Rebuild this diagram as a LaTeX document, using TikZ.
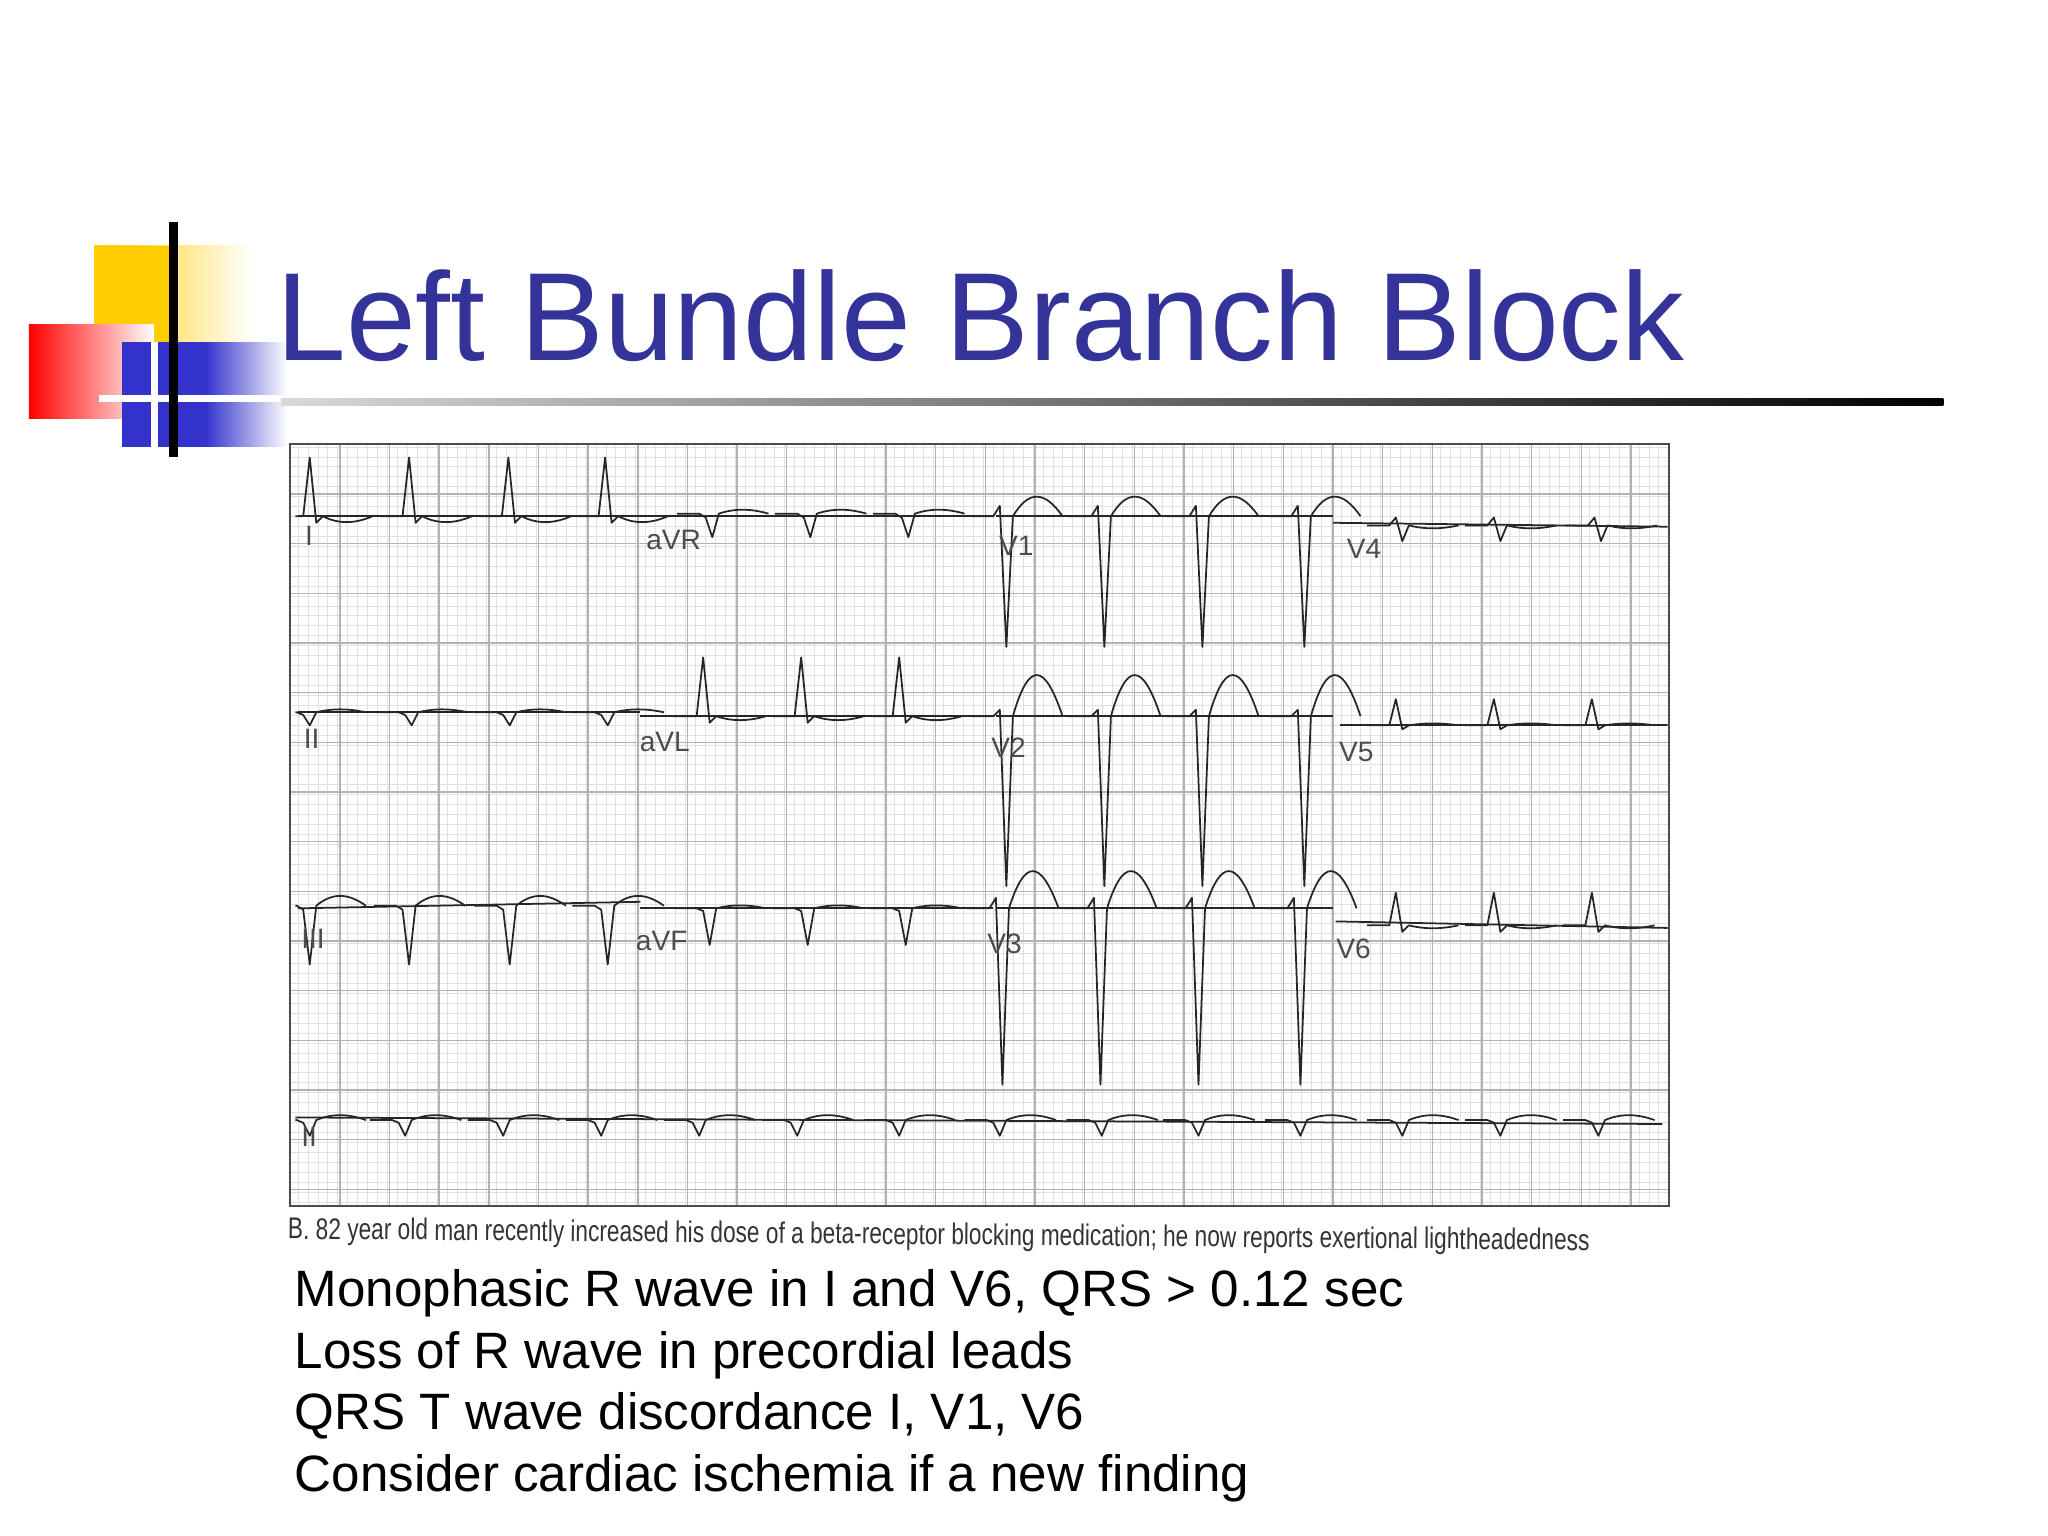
\documentclass[tikz,border=0pt]{standalone}
\usepackage{fontspec}
\setmainfont{Liberation Sans}
\begin{document}
\begin{tikzpicture}[x=0.01307cm,y=-0.01307cm,
  ecg/.style={line width=0.5pt,black!85,line join=round},
  leadlbl/.style={font=\fontsize{8}{9}\selectfont,text=black!70,anchor=west,inner sep=0},
  bullet/.style={font=\fontsize{14.55}{16}\selectfont,anchor=base west,inner sep=0}]
\useasboundingbox (0,0) rectangle (1567,1175);
\definecolor{ttl}{RGB}{51,51,153}
\definecolor{sqblue}{RGB}{51,51,204}
\definecolor{sqyel}{RGB}{255,204,0}
% decorative squares
\shade[left color=sqyel,right color=white] (72,188) rectangle (193,310);
\fill[sqyel] (72,188) rectangle (132,310);
\shade[shading angle=45,left color=red,right color=white] (22,248) rectangle (118,320);
\fill[sqblue] (93,262) rectangle (157,342);
\shade[left color=sqblue,right color=white] (157,262) rectangle (220,342);
\draw[white,line width=2pt] (76,305) -- (220,305);
\draw[white,line width=2pt] (118,262) -- (118,342);
\draw[black,line width=2.5pt] (133,170) -- (133,350);
% title
\node[anchor=base west,inner sep=0,text=ttl,font=\fontsize{35.7}{40}\selectfont] (title) at (211,276) {Left Bundle Branch Block};
\shade[left color=black!15,right color=black] (215,305) rectangle (1487,310);
% ECG paper
\node[minimum width=1054*0.01307cm,minimum height=582*0.01307cm,anchor=north west,inner sep=0] (paper) at (222,340) {};
\draw[black!12,line width=0.2pt,step=7.6*0.01307cm] (222,340) grid (1276,922);
\draw[black!30,line width=0.4pt] \foreach \gx in {0,...,27} {(222+\gx*38,340) -- (222+\gx*38,922)};
\draw[black!30,line width=0.4pt] \foreach \gy in {0,...,15} {(222,340+\gy*38) -- (1276,340+\gy*38)};
\newcommand\beat[6]{% x, base, r, s, t
  \draw[ecg] ({#1-22},#2) -- ({#1-5},#2) -- (#1,{#2-#3}) -- ({#1+5},{#2+#4}) -- ({#1+10},#2)
   .. controls ({#1+22},{#2-#5}) and ({#1+34},{#2-#5}) .. ({#1+48},#2);}
\begin{scope}
\clip (226,340) rectangle (1276,922);
% row 1
\draw[ecg] (228,395) -- (490,395); \draw[ecg] (490,395) -- (760,395);
\draw[ecg] (762,395) -- (1020,395); \draw[ecg] (1020,400) -- (1276,403);
\foreach \p in {237,313,389,463} {\beat{\p}{395}{45}{5}{-6}{}}
\foreach \p in {540,615,690} {\beat{\p}{393}{-3}{18}{4}{}}
\foreach \p in {765,840,915,993} {\beat{\p}{395}{8}{100}{20}{}}
\foreach \p in {1068,1143,1220} {\beat{\p}{402}{6}{12}{-3}{}}
% row 2
\draw[ecg] (228,545) -- (490,545); \draw[ecg] (490,548) -- (760,548);
\draw[ecg] (762,548) -- (1020,548); \draw[ecg] (1025,555) -- (1276,555);
\foreach \p in {232,310,385,460} {\beat{\p}{545}{-2}{10}{3}{}}
\foreach \p in {538,613,688} {\beat{\p}{548}{45}{5}{-4}{}}
\foreach \p in {765,840,915,993} {\beat{\p}{548}{5}{130}{42}{}}
\foreach \p in {1068,1143,1218} {\beat{\p}{555}{20}{3}{2}{}}
% row 3
\draw[ecg] (228,695) -- (490,690); \draw[ecg] (490,695) -- (760,695);
\draw[ecg] (762,695) -- (1020,695); \draw[ecg] (1022,705) -- (1276,710);
\foreach \p in {232,308,385,460} {\beat{\p}{693}{-3}{45}{10}{}}
\foreach \p in {538,613,688} {\beat{\p}{695}{-2}{28}{3}{}}
\foreach \p in {762,837,912,990} {\beat{\p}{695}{8}{135}{38}{}}
\foreach \p in {1068,1143,1218} {\beat{\p}{708}{25}{5}{-3}{}}
% row 4 rhythm
\draw[ecg] (225,855) -- (1272,860);
\foreach \p in {232,305,380,455,530,605,683,760,838,912,990,1068,1143,1218} {\beat{\p}{857}{-2}{12}{5}{}}
\end{scope}
\draw[black!70,line width=0.6pt] (paper.north west) rectangle (paper.south east);
% lead labels
\node[leadlbl] (l1) at (233,410) {I};
\node[leadlbl] (l2) at (494,413) {aVR};
\node[leadlbl] (l3) at (764,418) {V1};
\node[leadlbl] (l4) at (1030,420) {V4};
\node[leadlbl] (l5) at (232,565) {II};
\node[leadlbl] (l6) at (489,568) {aVL};
\node[leadlbl] (l7) at (758,572) {V2};
\node[leadlbl] (l8) at (1024,575) {V5};
\node[leadlbl] (l9) at (230,718) {III};
\node[leadlbl] (l10) at (486,720) {aVF};
\node[leadlbl] (l11) at (755,722) {V3};
\node[leadlbl] (l12) at (1022,726) {V6};
\node[leadlbl] (l13) at (230,870) {II};
% caption
\node[anchor=west,inner sep=0,rotate=-0.5,font=\fontsize{8.5}{10}\selectfont,text=black!80,xscale=0.76] (cap) at (220,942) {B. 82 year old man recently increased his dose of a beta-receptor blocking medication; he now reports exertional lightheadedness};
% bullets
\node[bullet] (b1) at (225,1000) {Monophasic R wave in I and V6, QRS > 0.12 sec};
\node[bullet] (b2) at (225,1047) {Loss of R wave in precordial leads};
\node[bullet] (b3) at (225,1094) {QRS T wave discordance I, V1, V6};
\node[bullet] (b4) at (225,1141) {Consider cardiac ischemia if a new finding};
\end{tikzpicture}
\end{document}
